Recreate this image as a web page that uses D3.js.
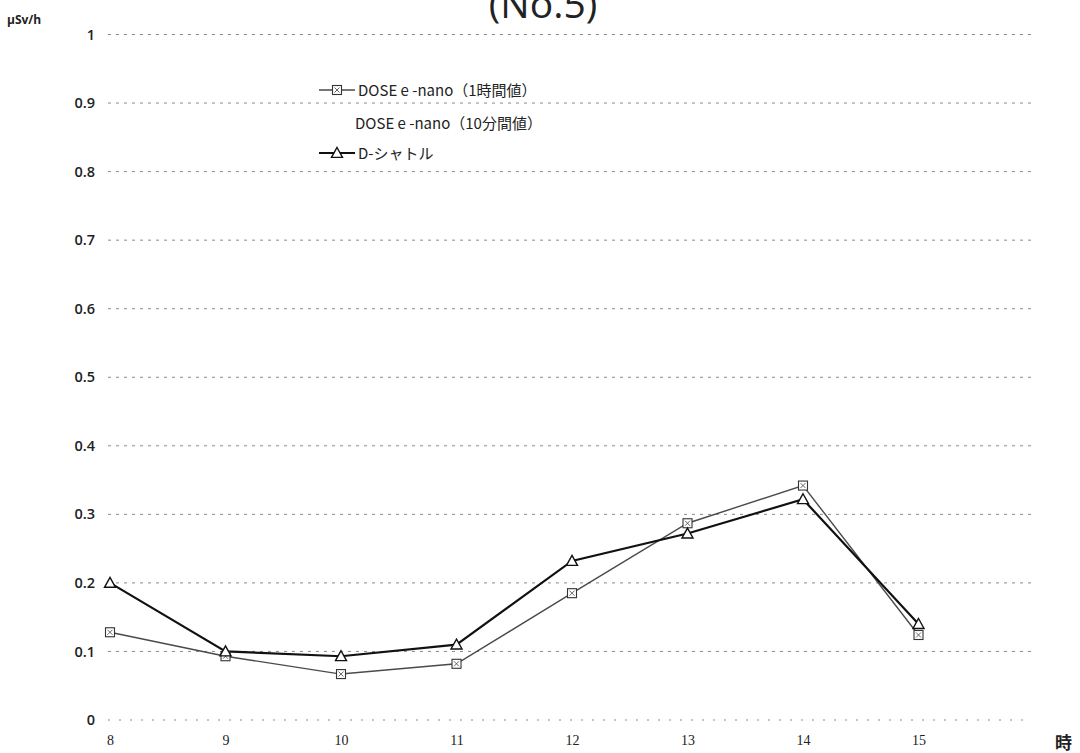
<!DOCTYPE html>
<html>
<head>
<meta charset="utf-8">
<script src="https://cdn.jsdelivr.net/npm/d3@7"></script>
<style>
  html, body { margin: 0; padding: 0; background: #fff; }
  svg { display: block; }
</style>
</head>
<body>
<svg id="chart" width="1080" height="753"></svg>
<script>
// Hourly ambient dose rate readings (µSv/h), hours 8–15
const hours = [8, 9, 10, 11, 12, 13, 14, 15];
const doseNanoHourly = [0.128, 0.093, 0.067, 0.082, 0.185, 0.287, 0.342, 0.124];
const dShuttle = [0.20, 0.10, 0.093, 0.11, 0.232, 0.272, 0.322, 0.14];
const yTicks = [0, 0.1, 0.2, 0.3, 0.4, 0.5, 0.6, 0.7, 0.8, 0.9, 1];
const legendLabels = ["DOSE e -nano（1時間値）", "DOSE e -nano（10分間値）", "D-シャトル"];

const svg = d3.select("#chart");

// category axis runs 8..16 with values placed on the tick marks
const x = d3.scaleLinear().domain([8, 16]).range([110, 1034]);
const y = d3.scaleLinear().domain([0, 1]).range([720, 34.5]);

// title (partly above the top edge)
svg.append("text")
  .attr("x", 543).attr("y", 18)
  .attr("text-anchor", "middle")
  .attr("font-family", "Open Sans, sans-serif")
  .attr("font-size", 39)
  .attr("fill", "#222")
  .text("(No.5)");

// unit label
svg.append("text")
  .attr("x", 7).attr("y", 24)
  .attr("font-family", "Open Sans, sans-serif")
  .attr("font-weight", "bold")
  .attr("font-size", 12)
  .attr("fill", "#222")
  .text("µSv/h");

// horizontal dotted gridlines
const grid = svg.append("g");
grid.selectAll("line")
  .data(yTicks)
  .join("line")
  .attr("x1", 108).attr("x2", 1032)
  .attr("y1", d => y(d)).attr("y2", d => y(d))
  .attr("stroke", "#8a8a8a")
  .attr("stroke-width", 1)
  .attr("stroke-dasharray", d => d === 0 ? "2,9" : "3,5");

// y axis labels
const yAxis = d3.axisLeft(y).tickValues(yTicks)
  .tickFormat(d => d === 0 ? "0" : d === 1 ? "1" : d3.format(".1f")(d))
  .tickSize(0).tickPadding(0);
const yg = svg.append("g").attr("transform", "translate(95,0)").call(yAxis);
yg.select(".domain").remove();
yg.selectAll("text")
  .attr("font-family", "Open Sans, sans-serif")
  .attr("font-size", 14.5)
  .attr("font-weight", 600)
  .attr("fill", "#222");

// x axis labels
const xAxis = d3.axisBottom(x).tickValues(hours).tickFormat(d3.format("d"))
  .tickSize(0).tickPadding(0);
const xg = svg.append("g").attr("transform", "translate(0,735)").call(xAxis);
xg.select(".domain").remove();
xg.selectAll("text")
  .attr("font-family", "Liberation Serif, serif")
  .attr("font-size", 14)
  .attr("fill", "#222");

// x axis title
svg.append("text")
  .attr("x", 1055).attr("y", 749)
  .attr("font-family", "Noto Sans CJK JP, sans-serif")
  .attr("font-weight", "bold")
  .attr("font-size", 17)
  .attr("fill", "#222")
  .text("時");

const line = d3.line().x((d, i) => x(hours[i])).y(d => y(d));

// square marker with a small cross-hatch inside
function squareMarker(g, cx, cy) {
  const s = 4.5;
  g.append("rect")
    .attr("x", cx - s).attr("y", cy - s)
    .attr("width", 2 * s).attr("height", 2 * s)
    .attr("fill", "#fff").attr("stroke", "#333").attr("stroke-width", 1.1);
  g.append("path")
    .attr("d", `M${cx - s + 2},${cy - s + 2}L${cx + s - 2},${cy + s - 2}M${cx + s - 2},${cy - s + 2}L${cx - s + 2},${cy + s - 2}`)
    .attr("stroke", "#555").attr("stroke-width", 0.9).attr("fill", "none");
}
function triangleMarker(g, cx, cy) {
  const s = 5.5;
  g.append("path")
    .attr("d", `M${cx},${cy - s}L${cx + s},${cy + s * 0.8}L${cx - s},${cy + s * 0.8}Z`)
    .attr("fill", "#fff").attr("stroke", "#111").attr("stroke-width", 1.4);
}

// DOSE e-nano hourly series
svg.append("path")
  .datum(doseNanoHourly)
  .attr("d", line)
  .attr("fill", "none")
  .attr("stroke", "#4a4a4a")
  .attr("stroke-width", 1.4);

// D-shuttle series
svg.append("path")
  .datum(dShuttle)
  .attr("d", line)
  .attr("fill", "none")
  .attr("stroke", "#111")
  .attr("stroke-width", 2.2);

const mk = svg.append("g");
doseNanoHourly.forEach((v, i) => squareMarker(mk, x(hours[i]), y(v)));
dShuttle.forEach((v, i) => triangleMarker(mk, x(hours[i]), y(v)));

// legend
const lg = svg.append("g");
const rows = [90, 123, 153];
const lx1 = 319, lx2 = 355, tx = 358;
lg.append("line").attr("x1", lx1).attr("x2", lx2).attr("y1", rows[0]).attr("y2", rows[0])
  .attr("stroke", "#4a4a4a").attr("stroke-width", 1.4);
squareMarker(lg, (lx1 + lx2) / 2, rows[0]);
lg.append("line").attr("x1", lx1).attr("x2", lx2).attr("y1", rows[2]).attr("y2", rows[2])
  .attr("stroke", "#111").attr("stroke-width", 2.2);
triangleMarker(lg, (lx1 + lx2) / 2, rows[2]);

lg.selectAll("text.lbl")
  .data(legendLabels)
  .join("text")
  .attr("class", "lbl")
  .attr("x", (d, i) => i === 1 ? 355 : tx)
  .attr("y", (d, i) => rows[i] + 5.5)
  .attr("font-family", "Noto Sans CJK JP, sans-serif")
  .attr("font-size", 15)
  .attr("fill", "#222")
  .text(d => d);
</script>
</body>
</html>
